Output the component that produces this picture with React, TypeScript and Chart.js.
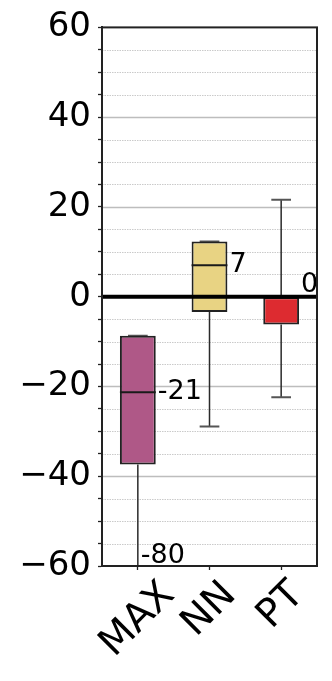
import { useEffect, useRef } from 'react';
import { Chart, registerables } from 'chart.js';

Chart.register(...registerables);

const categories = ['MAX', 'NN', 'PT'];
const q1Values = [-37.4, -3.4, -6.2];
const medianValues = [-21.3, 7.0, 0];
const q3Values = [-8.7, 12.3, 0];
const whiskerLowValues = [-80, -28.9, -22.4];
const whiskerHighValues = [-8.7, 12.3, 21.6];
const boxColors = ['#af5887', '#e8d383', '#dd2b30'];
const Y_MIN = -60;
const Y_MAX = 60;
const Y_STEP = 5;
const Y_LABEL_STEP = 20;

const FONT = 'DejaVu Sans';

const fmt = (v: number) => (v < 0 ? '\u2212' + Math.abs(v) : String(v));

const boxPlugin = {
  id: 'boxExtras',
  beforeDatasetsDraw(chart: any) {
    const { ctx, chartArea: a, scales } = chart;
    const y = scales.y;
    ctx.save();
    for (const t of y.ticks) {
      const v = t.value;
      if (v === Y_MIN || v === Y_MAX || v === 0) continue;
      const py = Math.round(y.getPixelForValue(v)) + 0.5;
      const major = v % Y_LABEL_STEP === 0;
      ctx.beginPath();
      if (major) {
        ctx.setLineDash([]);
        ctx.strokeStyle = '#bdbdbd';
        ctx.lineWidth = 1.6;
      } else {
        ctx.setLineDash([1.5, 1]);
        ctx.strokeStyle = '#c4c4c4';
        ctx.lineWidth = 0.9;
      }
      ctx.moveTo(a.left, py);
      ctx.lineTo(a.right, py);
      ctx.stroke();
    }
    ctx.setLineDash([]);
    ctx.beginPath();
    ctx.rect(a.left, a.top, a.right - a.left, a.bottom - a.top);
    ctx.clip();
    const meta = chart.getDatasetMeta(0);
    meta.data.forEach((bar: any, i: number) => {
      const cx = bar.x;
      const capW = bar.width * 0.55;
      ctx.strokeStyle = '#2a2a2a';
      ctx.lineWidth = 1.5;
      ctx.beginPath();
      ctx.moveTo(cx, y.getPixelForValue(q1Values[i]));
      ctx.lineTo(cx, y.getPixelForValue(whiskerLowValues[i]));
      ctx.moveTo(cx, y.getPixelForValue(q3Values[i]));
      ctx.lineTo(cx, y.getPixelForValue(whiskerHighValues[i]));
      ctx.stroke();
      ctx.strokeStyle = '#555';
      ctx.lineWidth = 2;
      ctx.beginPath();
      for (const w of [whiskerLowValues[i], whiskerHighValues[i]]) {
        const py = y.getPixelForValue(w);
        ctx.moveTo(cx - capW / 2, py);
        ctx.lineTo(cx + capW / 2, py);
      }
      ctx.stroke();
    });
    ctx.restore();
  },
  afterDatasetsDraw(chart: any) {
    const { ctx, chartArea: a, scales } = chart;
    const y = scales.y;
    const meta = chart.getDatasetMeta(0);
    ctx.save();
    meta.data.forEach((bar: any, i: number) => {
      const py = y.getPixelForValue(medianValues[i]);
      ctx.strokeStyle = '#1a1a1a';
      ctx.lineWidth = 2;
      ctx.beginPath();
      ctx.moveTo(bar.x - bar.width / 2, py);
      ctx.lineTo(bar.x + bar.width / 2, py);
      ctx.stroke();
    });
    const py0 = y.getPixelForValue(0);
    ctx.strokeStyle = '#000';
    ctx.lineWidth = 4;
    ctx.beginPath();
    ctx.moveTo(a.left, py0);
    ctx.lineTo(a.right, py0);
    ctx.stroke();
    ctx.fillStyle = '#000';
    ctx.font = `27px "${FONT}"`;
    ctx.textAlign = 'left';
    meta.data.forEach((bar: any, i: number) => {
      const m = medianValues[i];
      let py = y.getPixelForValue(m);
      if (Math.round(m) === 0) py -= 12;
      ctx.textBaseline = 'middle';
      ctx.fillText(String(Math.round(m)), bar.x + bar.width / 2 + 2, py);
      if (whiskerLowValues[i] < Y_MIN) {
        ctx.textBaseline = 'alphabetic';
        ctx.fillText(String(whiskerLowValues[i]), bar.x + 3, a.bottom - 3);
      }
    });
    ctx.strokeStyle = '#222';
    ctx.lineWidth = 2;
    ctx.strokeRect(a.left, a.top, a.right - a.left, a.bottom - a.top);
    ctx.restore();
  },
  afterDraw(chart: any) {
    const { ctx, chartArea: a, scales } = chart;
    const x = scales.x;
    ctx.save();
    const fs = 39;
    ctx.font = `${fs}px "${FONT}"`;
    ctx.fillStyle = '#000';
    ctx.textAlign = 'center';
    ctx.textBaseline = 'middle';
    const H = fs * 0.95;
    categories.forEach((c, i) => {
      const px = x.getPixelForValue(i);
      const W = ctx.measureText(c).width;
      const top = a.bottom + 10;
      const cy = top + (W + H) / (2 * Math.SQRT2);
      ctx.save();
      ctx.translate(px, cy);
      ctx.rotate(-Math.PI / 4);
      ctx.fillText(c, 0, 0);
      ctx.restore();
    });
    ctx.restore();
  },
};

export default function App() {
  const ref = useRef<HTMLCanvasElement | null>(null);
  useEffect(() => {
    if (!ref.current) return;
    const chart = new Chart(ref.current, {
      type: 'bar',
      data: {
        labels: categories,
        datasets: [
          {
            data: categories.map((_, i) => [q1Values[i], q3Values[i]]) as any,
            backgroundColor: boxColors,
            borderColor: '#222',
            borderWidth: 2,
            borderSkipped: false,
            barPercentage: 0.5,
            categoryPercentage: 1,
          },
        ],
      },
      options: {
        responsive: false,
        animation: false,
        layout: { padding: { left: 0, right: 15, top: 25, bottom: 0 } },
        plugins: { legend: { display: false }, tooltip: { enabled: false } },
        scales: {
          x: {
            type: 'category',
            offset: true,
            grid: { offset: false, drawOnChartArea: false, tickLength: 4, tickColor: '#222', tickWidth: 1.3 },
            ticks: { callback: () => '', maxRotation: 0, autoSkip: false },
            border: { color: '#222', width: 2 },
            afterFit: (s: any) => { s.height = 115; },
          },
          y: {
            min: Y_MIN,
            max: Y_MAX,
            ticks: {
              stepSize: Y_STEP,
              autoSkip: false,
              callback: (v: any) => (Number(v) % Y_LABEL_STEP === 0 ? fmt(Number(v)) : ''),
              font: { family: FONT, size: 34 },
              color: '#000',
              padding: 7,
            },
            grid: { drawOnChartArea: false, tickLength: 4, tickColor: '#222', tickWidth: 1.3 },
            border: { color: '#222', width: 2 },
            afterFit: (s: any) => { s.width = 102; },
          },
        },
      },
      plugins: [boxPlugin],
    });
    return () => chart.destroy();
  }, []);
  return (
    <div style={{ position: 'fixed', left: 0, top: 0, width: 332, height: 681, background: '#fff' }}>
      <canvas ref={ref} width={332} height={681} style={{ width: 332, height: 681, display: 'block' }} />
    </div>
  );
}
